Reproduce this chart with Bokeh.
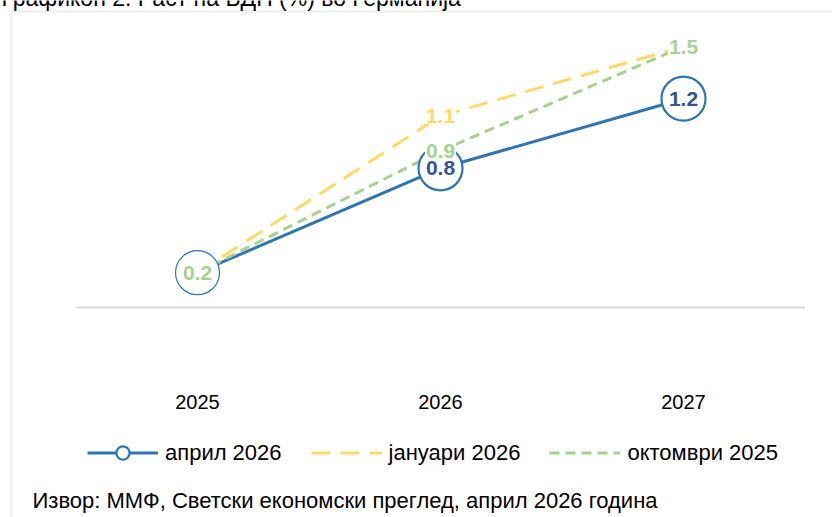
from bokeh.plotting import figure
from bokeh.models import Range1d, Legend, LegendItem, Label, PolyAnnotation, FixedTicker
from bokeh.core.properties import value
from bokeh.embed import file_html
from bokeh.resources import INLINE

# ---- data ----
years = ["2025", "2026", "2027"]
april_2026 = [0.2, 0.8, 1.2]
january_2026 = [0.2, 1.1, 1.5]
october_2025 = [0.2, 0.9, 1.5]
series_names = ["април 2026", "јануари 2026", "октомври 2025"]
title_text = "Графикон 2. Раст на БДП (%) во Германија"
source_text = "Извор: ММФ, Светски економски преглед, април 2026 година"

# category positions on the x scale
xpos = list(range(len(years)))

# ---- styles ----
FONT = "Liberation Sans"
BLUE = "#2E75B6"
BLUE_LABEL = "#2F5597"
YELLOW = "#FFD966"
GREEN = "#A9D18E"
BORDER = "#D0D0D0"
AXIS_GRAY = "#D9D9D9"
circle_line_widths = [1.2, 2.2, 2.2]

W, H = 832, 517
p = figure(width=W, height=H,
           x_range=Range1d(-0.8107, 2.6132),
           y_range=Range1d(-1.2069, 1.7644),
           output_backend="svg", toolbar_location=None,
           min_border_left=0, min_border_right=0,
           min_border_top=0, min_border_bottom=0,
           y_axis_location=None)
p.outline_line_color = None
p.grid.visible = False
p.background_fill_color = "white"
p.border_fill_color = "white"

ax = p.xaxis[0]
ax.fixed_location = 0
ax.ticker = FixedTicker(ticks=xpos)
ax.major_label_overrides = {i: y for i, y in zip(xpos, years)}
ax.axis_line_color = None
ax.major_tick_line_color = None
ax.minor_tick_line_color = None
ax.major_label_standoff = 81
ax.major_label_text_font = FONT
ax.major_label_text_font_size = "20px"
ax.major_label_text_color = "#000000"

# surrounding box (left and top edges visible)
p.add_layout(PolyAnnotation(xs=[11, 11, 900, 900], ys=[-30, 506, 506, -30],
                            xs_units="screen", ys_units="screen",
                            line_color=BORDER, line_width=2.5, fill_alpha=0,
                            level="underlay"))

# horizontal category axis line at zero, spanning the category bands
p.segment(x0=[xpos[0] - 0.5], x1=[xpos[-1] + 0.5], y0=[0], y1=[0],
          line_color=AXIS_GRAY, line_width=2)

# lines
r1 = p.line(xpos, april_2026, line_color=BLUE, line_width=3, line_join="round")
r2 = p.line(xpos, january_2026, line_color=YELLOW, line_width=3, line_dash="19 10")
r3 = p.line(xpos, october_2025, line_color=GREEN, line_width=3, line_dash="10 6")

# markers
rc = p.scatter(xpos, april_2026, marker="circle", size=44, fill_color="white",
               line_color=BLUE, line_width=circle_line_widths)

# data labels (white boxes, later series on top)
for vals, col in ((april_2026, BLUE_LABEL), (january_2026, YELLOW), (october_2025, GREEN)):
    p.text(x=xpos, y=vals, text=[f"{v:.1f}" for v in vals],
           text_font=value(FONT), text_font_style="bold", text_font_size="21px",
           text_color=col, text_align="center", text_baseline="middle",
           background_fill_color="white", padding=1)

# legend
legend = Legend(items=[
    LegendItem(label=series_names[0], renderers=[r1, rc], index=1),
    LegendItem(label=series_names[1], renderers=[r2]),
    LegendItem(label=series_names[2], renderers=[r3]),
], orientation="horizontal", location=(87, 48),
    glyph_width=71, glyph_height=33, label_standoff=7, spacing=29,
    padding=0, margin=0, border_line_color=None, background_fill_alpha=0,
    label_text_font=FONT, label_text_font_size="22px", label_text_color="#000000")
p.add_layout(legend, "center")

# title (cut off at the top, as in the source) and source note
p.add_layout(Label(x=1, y=520, x_units="screen", y_units="screen", text=title_text,
                   text_font=FONT, text_font_size="23px", text_color="#000000",
                   text_baseline="alphabetic"))
p.add_layout(Label(x=32, y=17, x_units="screen", y_units="screen", text=source_text,
                   text_font=FONT, text_font_size="22px", text_color="#000000",
                   text_baseline="middle"))

open("out.html", "w").write(file_html(p, INLINE))
